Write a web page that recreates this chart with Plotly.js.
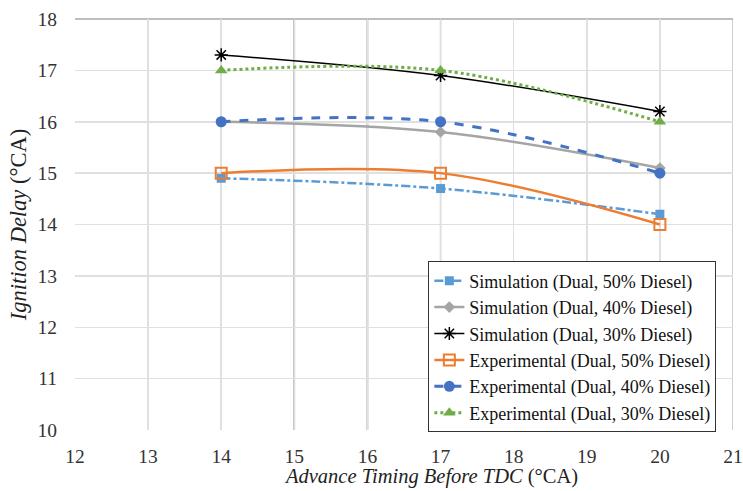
<!DOCTYPE html>
<html>
<head>
<meta charset="utf-8">
<script src="https://cdn.plot.ly/plotly-3.0.1.min.js"></script>
<style>html,body{margin:0;padding:0;background:#fff;}#chart{width:743px;height:491px;}</style>
</head>
<body>
<div id="chart"></div>
<script>
const timing = [14, 17, 20];
const simDual50 = [14.9, 14.7, 14.2];
const simDual40 = [16.0, 15.8, 15.1];
const simDual30 = [17.3, 16.9, 16.2];
const expDual50 = [15.0, 15.0, 14.0];
const expDual40 = [16.0, 16.0, 15.0];
const expDual30 = [17.0, 17.0, 16.0];
const seriesNames = [
  'Simulation (Dual, 50% Diesel)',
  'Simulation (Dual, 40% Diesel)',
  'Simulation (Dual, 30% Diesel)',
  'Experimental (Dual, 50% Diesel)',
  'Experimental (Dual, 40% Diesel)',
  'Experimental (Dual, 30% Diesel)'
];
const xTicks = [12, 13, 14, 15, 16, 17, 18, 19, 20, 21];
const yTicks = [10, 11, 12, 13, 14, 15, 16, 17, 18];
const xTitle = '<i>Advance Timing Before TDC</i> (°CA)';
const yTitle = '<i>Ignition Delay</i> (°CA)';
// emphasized grid lines (as seen in the image)
const darkX = [15, 16];
const midX = [14];
const softX = [17, 20, 21];
const darkY = [14, 15];

const FONT = 'Liberation Serif';

const traces = [
  {x: timing, y: simDual50, name: seriesNames[0], mode: 'lines+markers', line: {color: '#5B9BD5', width: 2.5, dash: 'dashdot', shape: 'spline'}, marker: {symbol: 'square', size: 9, color: '#5B9BD5'}},
  {x: timing, y: simDual40, name: seriesNames[1], mode: 'lines+markers', line: {color: '#A5A5A5', width: 2.5, shape: 'spline'}, marker: {symbol: 'diamond', size: 9, color: '#A5A5A5'}},
  {x: timing, y: simDual30, name: seriesNames[2], mode: 'lines+markers', line: {color: '#000000', width: 1.5, shape: 'spline'}, marker: {symbol: 'asterisk-open', size: 11, color: '#000000', line: {color: '#000000', width: 1.5}}},
  {x: timing, y: expDual50, name: seriesNames[3], mode: 'lines+markers', line: {color: '#ED7D31', width: 2.5, shape: 'spline'}, marker: {symbol: 'square-open', size: 11, color: '#ED7D31', line: {color: '#ED7D31', width: 2}}},
  {x: timing, y: expDual40, name: seriesNames[4], mode: 'lines+markers', line: {color: '#4472C4', width: 3, dash: 'dash', shape: 'spline'}, marker: {symbol: 'circle', size: 11, color: '#4472C4'}},
  {x: timing, y: expDual30, name: seriesNames[5], mode: 'lines+markers', line: {color: '#70AD47', width: 3, dash: 'dot', shape: 'spline'}, marker: {symbol: 'triangle-up', size: 11, color: '#70AD47'}}
];

const shapes = [];
darkX.forEach(v => shapes.push({type: 'line', xref: 'x', yref: 'paper', x0: v, x1: v, y0: 0, y1: 1, line: {color: '#7a7a7a', width: 1.5}, layer: 'below'}));
midX.forEach(v => shapes.push({type: 'line', xref: 'x', yref: 'paper', x0: v, x1: v, y0: 0, y1: 1, line: {color: '#a0a0a0', width: 1.5}, layer: 'below'}));
softX.forEach(v => shapes.push({type: 'line', xref: 'x', yref: 'paper', x0: v, x1: v, y0: 0, y1: 1, line: {color: '#bfbfbf', width: 1.5}, layer: 'below'}));
darkY.forEach(v => shapes.push({type: 'line', xref: 'paper', yref: 'y', x0: 0, x1: 1, y0: v, y1: v, line: {color: '#333333', width: 1.2}, layer: 'below'}));
shapes.push({type: 'line', xref: 'paper', yref: 'paper', x0: 0, x1: 1, y0: 1, y1: 1, line: {color: '#a8a8a8', width: 1.5}, layer: 'below'});

const layout = {
  width: 743, height: 491,
  margin: {l: 75, r: 10, t: 19, b: 61},
  paper_bgcolor: '#fff', plot_bgcolor: '#fff',
  font: {family: FONT, size: 19, color: '#222'},
  showlegend: true,
  legend: {x: 0.537, y: 0.41, xanchor: 'left', yanchor: 'top', bgcolor: '#fff', bordercolor: '#333', borderwidth: 1, font: {family: FONT, size: 18, color: '#111'}, tracegroupgap: 0, itemwidth: 30},
  xaxis: {range: [12, 21], tickvals: xTicks, ticktext: xTicks.map(String), showgrid: true, gridcolor: '#e0e0e0', gridwidth: 1.5, zeroline: false, showline: false, ticks: '', ticklabelstandoff: 12, tickfont: {family: FONT, size: 19.5, color: '#333'}},
  yaxis: {range: [10, 18], tickvals: yTicks, ticktext: yTicks.map(String), showgrid: true, gridcolor: '#e0e0e0', gridwidth: 1.5, zeroline: false, showline: false, ticks: '', ticklabelstandoff: 17, tickfont: {family: FONT, size: 19.5, color: '#333'},
    title: {text: yTitle, font: {family: FONT, size: 22.5, color: '#222'}, standoff: 4}},
  annotations: [
    {text: xTitle, xref: 'paper', yref: 'paper', x: 0.541, y: -0.112, xanchor: 'center', yanchor: 'middle', showarrow: false, font: {family: FONT, size: 20.5, color: '#222'}}
  ],
  shapes: shapes
};

Plotly.newPlot('chart', traces, layout, {displayModeBar: false, staticPlot: true});
</script>
</body>
</html>
